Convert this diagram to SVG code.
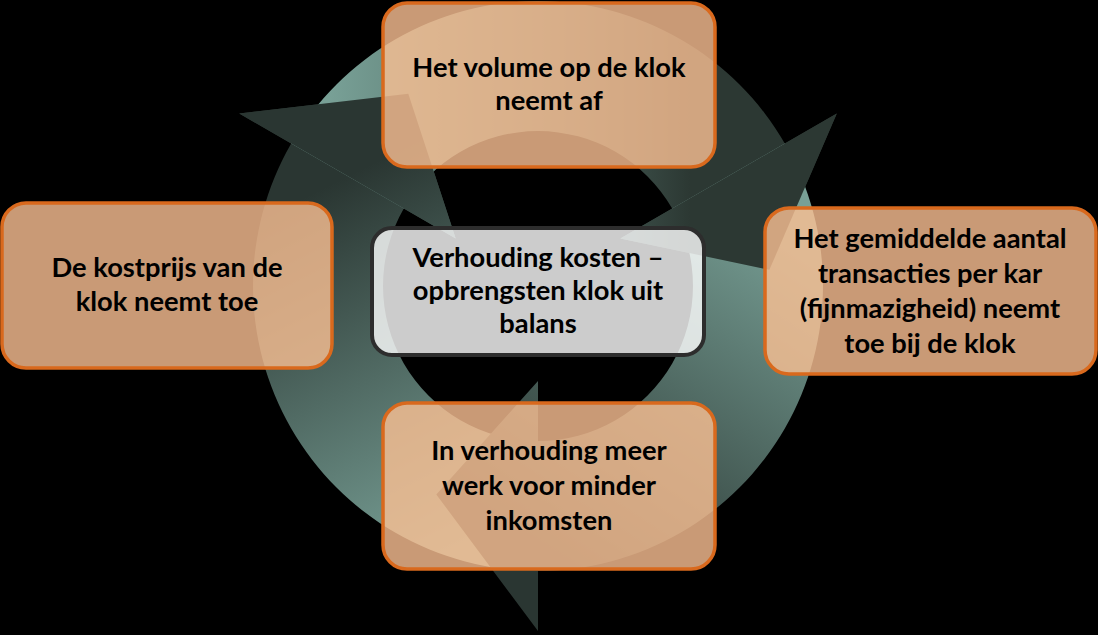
<svg xmlns="http://www.w3.org/2000/svg" width="1098" height="635" viewBox="0 0 1098 635">
<defs>
<linearGradient id="gA" gradientUnits="userSpaceOnUse" x1="520" y1="520" x2="348" y2="176">
<stop offset="0" stop-color="#78a096"/><stop offset="1" stop-color="#2a3632"/></linearGradient>
<linearGradient id="gB" gradientUnits="userSpaceOnUse" x1="330" y1="150" x2="690" y2="150">
<stop offset="0" stop-color="#78a096"/><stop offset="0.6" stop-color="#4e6962"/><stop offset="1" stop-color="#2c3833"/></linearGradient>
<linearGradient id="gC" gradientUnits="userSpaceOnUse" x1="760" y1="200" x2="538" y2="540">
<stop offset="0" stop-color="#78a096"/><stop offset="1" stop-color="#2a3632"/></linearGradient>
<style>
.box{fill:#fbc194;fill-opacity:0.8;stroke:#d9691d;stroke-width:3.5}
.mid{fill:#ffffff;fill-opacity:0.8;stroke:#2d2d2d;stroke-width:4}
text{font-family:Lato,"Liberation Sans",sans-serif;font-weight:bold;font-size:27.3px;fill:#000;text-anchor:middle}
</style>
</defs>
<rect width="1098" height="635" fill="#000"/>
<g id="connectors">
<path id="arrowA" fill="url(#gA)" d="M538,571 A285,285 0 0 1 291.2,143.5 L239.2,113.5 L408.3,93.7 L455.7,238.5 L403.8,208.5 A155,155 0 0 0 538,441 Z"/>
<path id="arrowB" fill="url(#gB)" d="M291.2,143.5 A285,285 0 0 1 784.8,143.5 L836.8,113.5 L769.4,269.8 L620.3,238.5 L672.2,208.5 A155,155 0 0 0 403.8,208.5 Z"/>
<path id="arrowC" fill="url(#gC)" d="M784.8,143.5 A285,285 0 0 1 538,571 L538,631 L436.3,494.5 L538,381 L538,441 A155,155 0 0 0 672.2,208.5 Z"/>
<path fill="url(#gA)" d="M291.2,143.5 L239.2,113.5 L408.3,93.7 L455.7,238.5 L403.8,208.5 Z"/>
<path fill="url(#gB)" d="M784.8,143.5 L836.8,113.5 L769.4,269.8 L620.3,238.5 L672.2,208.5 Z"/>
</g>
<g id="node-top">
<rect class="box" x="383" y="3" width="332" height="164" rx="24"/>
<text x="549" y="77">Het volume op de klok</text>
<text x="549" y="110">neemt af</text>
</g>
<g id="node-left">
<rect class="box" x="2" y="203" width="330" height="165" rx="24"/>
<text x="167" y="277">De kostprijs van de</text>
<text x="167" y="311">klok neemt toe</text>
</g>
<g id="node-right">
<rect class="box" x="765" y="208" width="331" height="166" rx="24"/>
<text x="930" y="248">Het gemiddelde aantal</text>
<text x="930" y="283">transacties per kar</text>
<text x="930" y="318">(fijnmazigheid) neemt</text>
<text x="930" y="353">toe bij de klok</text>
</g>
<g id="node-bottom">
<rect class="box" x="383" y="403" width="332" height="166" rx="24"/>
<text x="549" y="460">In verhouding meer</text>
<text x="549" y="495">werk voor minder</text>
<text x="549" y="530">inkomsten</text>
</g>
<g id="node-center">
<rect class="mid" x="372" y="228" width="332" height="127" rx="20"/>
<text x="538" y="267">Verhouding kosten –</text>
<text x="538" y="300">opbrengsten klok uit</text>
<text x="538" y="333">balans</text>
</g>
</svg>
